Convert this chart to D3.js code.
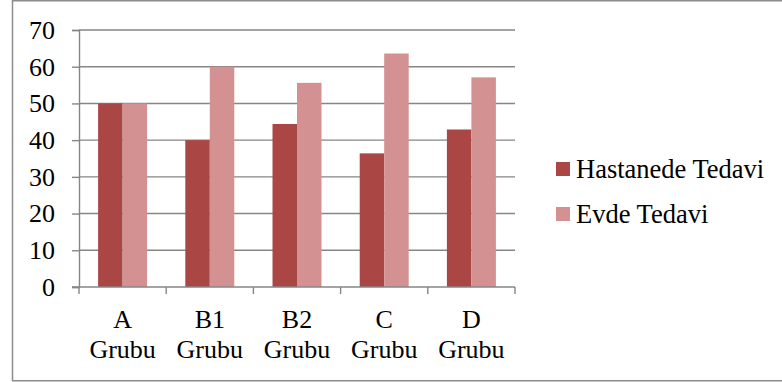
<!DOCTYPE html>
<html>
<head>
<meta charset="utf-8">
<script src="https://cdn.jsdelivr.net/npm/d3@7"></script>
<style>
  html, body { margin: 0; padding: 0; background: #fff; }
  svg { display: block; }
  text { font-family: "Liberation Serif", "Times New Roman", serif; fill: #000; }
</style>
</head>
<body>
<svg id="chart" width="782" height="382"></svg>
<script>
// Group labels (two lines each) and values per treatment
const groups = ["A", "B1", "B2", "C", "D"];
const groupSuffix = "Grubu";
const seriesNames = ["Hastanede Tedavi", "Evde Tedavi"];
const hastanedeValues = [50, 40, 44.4, 36.4, 42.9];
const evdeValues = [50, 60, 55.6, 63.6, 57.1];
const yTicks = [0, 10, 20, 30, 40, 50, 60, 70];
const colors = ["#AA4644", "#D39291"];

const seriesValues = [hastanedeValues, evdeValues];
const svg = d3.select("#chart");

// Outer frame
svg.append("rect")
  .attr("x", 12.5).attr("y", 0.75)
  .attr("width", 800).attr("height", 380)
  .attr("fill", "none").attr("stroke", "#8c8c8c").attr("stroke-width", 1.5);

const plot = { left: 79, right: 515, top: 30, bottom: 287 };

const x0 = d3.scaleBand().domain(groups).range([plot.left, plot.right]).padding(0);
const x1 = d3.scaleBand().domain(d3.range(seriesNames.length))
  .range([0, x0.bandwidth()]).paddingInner(0).paddingOuter(0.78);
const y = d3.scaleLinear().domain([0, 70]).range([plot.bottom, plot.top]);

// Horizontal gridlines
svg.append("g")
  .selectAll("line")
  .data(yTicks.filter(d => d > 0))
  .join("line")
  .attr("x1", plot.left).attr("x2", plot.right)
  .attr("y1", d => y(d)).attr("y2", d => y(d))
  .attr("stroke", "#868686").attr("stroke-width", 1.4);

// Bars
const barGroups = svg.append("g")
  .selectAll("g")
  .data(groups)
  .join("g")
  .attr("transform", d => `translate(${x0(d)},0)`);

barGroups.selectAll("rect")
  .data((g, gi) => seriesValues.map((vals, si) => ({ si, v: vals[gi] })))
  .join("rect")
  .attr("x", d => x1(d.si))
  .attr("width", x1.bandwidth())
  .attr("y", d => y(d.v))
  .attr("height", d => y(0) - y(d.v))
  .attr("fill", d => colors[d.si]);

// Y axis
const yAxis = svg.append("g")
  .attr("transform", `translate(${plot.left},0)`)
  .call(d3.axisLeft(y).tickValues(yTicks).tickSize(7).tickPadding(17).tickFormat(d3.format("d")));
yAxis.select(".domain").attr("stroke", "#868686").attr("stroke-width", 1.4);
yAxis.selectAll(".tick line").attr("stroke", "#868686").attr("stroke-width", 1.4);
yAxis.selectAll(".tick text")
  .style("font-family", "'Liberation Serif', 'Times New Roman', serif")
  .style("font-size", "26px").attr("fill", "#000");

// X axis with ticks at category boundaries
const xAxisG = svg.append("g").attr("transform", `translate(0,${plot.bottom})`);
xAxisG.append("line")
  .attr("x1", plot.left - 7).attr("x2", plot.right)
  .attr("stroke", "#868686").attr("stroke-width", 1.4);
const boundaries = groups.map(g => x0(g)).concat([plot.right]);
xAxisG.selectAll("line.tick")
  .data(boundaries)
  .join("line").attr("class", "tick")
  .attr("x1", d => d).attr("x2", d => d)
  .attr("y1", 0).attr("y2", 7)
  .attr("stroke", "#868686").attr("stroke-width", 1.4);

const labels = xAxisG.selectAll("text")
  .data(groups)
  .join("text")
  .attr("text-anchor", "middle")
  .style("font-size", "26px");
labels.append("tspan")
  .attr("x", d => x0(d) + x0.bandwidth() / 2).attr("y", 41)
  .text(d => d);
labels.append("tspan")
  .attr("x", d => x0(d) + x0.bandwidth() / 2).attr("y", 71)
  .text(groupSuffix);

// Legend
const legend = svg.append("g").attr("transform", "translate(556,162)");
const items = legend.selectAll("g")
  .data(seriesNames)
  .join("g")
  .attr("transform", (d, i) => `translate(0,${i * 45})`);
items.append("rect")
  .attr("width", 14).attr("height", 14)
  .attr("fill", (d, i) => colors[i]);
items.append("text")
  .attr("x", 20).attr("y", 16)
  .style("font-size", "26.5px")
  .text(d => d);
</script>
</body>
</html>
